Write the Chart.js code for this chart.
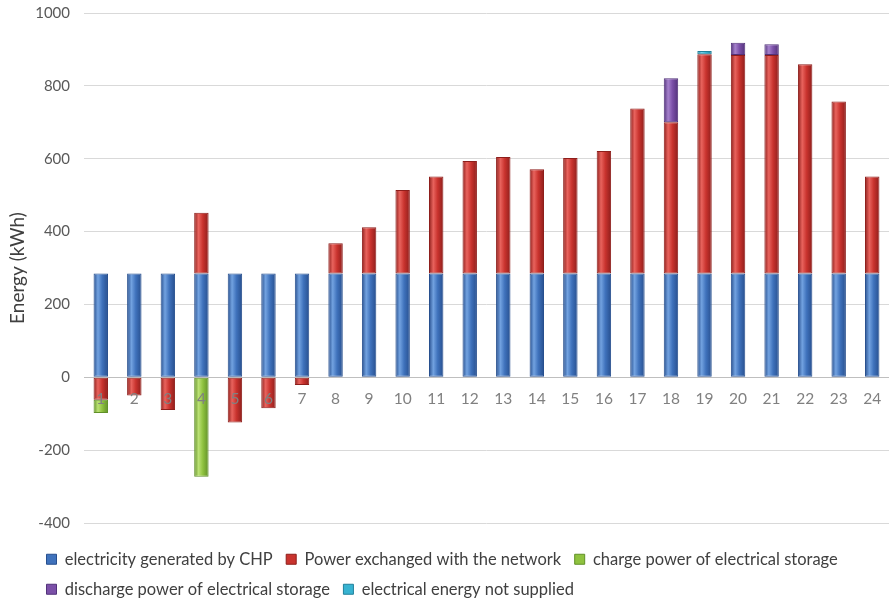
<!DOCTYPE html>
<html>
<head>
<meta charset="utf-8">
<script src="https://cdn.jsdelivr.net/npm/chart.js@4.4.1/dist/chart.umd.min.js"></script>
<style>
  html, body { margin: 0; padding: 0; background: #ffffff; }
  #wrap { width: 889px; height: 603px; }
</style>
</head>
<body>
<div id="wrap"><canvas id="chart" width="889" height="603"></canvas></div>
<script>
// Hourly electrical energy balance (kWh)
const hours = ['1','2','3','4','5','6','7','8','9','10','11','12','13','14','15','16','17','18','19','20','21','22','23','24'];

const chpOutput = [285,285,285,285,285,285,285,285,285,285,285,285,285,285,285,285,285,285,285,285,285,285,285,285];
const gridExchange = [-62,-50,-90,167,-124,-85,-21,83,127,229,266,309,320,286,317,336,453,415,602,600,600,574,472,266];
const storageCharge = [-36,null,null,-273,null,null,null,null,null,null,null,null,null,null,null,null,null,null,null,null,null,null,null,null];
const storageDischarge = [null,null,null,null,null,null,null,null,null,null,null,null,null,null,null,null,null,121,null,33,29,null,null,null];
const unservedEnergy = [null,null,null,null,null,null,null,null,null,null,null,null,null,null,null,null,null,null,9,null,null,null,null,null];

const seriesNames = [
  'electricity generated by CHP',
  'Power exchanged with the network',
  'charge power of electrical storage',
  'discharge power of electrical storage',
  'electrical energy not supplied'
];

const palette = [
  { base: '#3f72bc', light: '#72a2e0', dark: '#274f8e' },
  { base: '#c9332e', light: '#e8635d', dark: '#8e1e1b' },
  { base: '#8fc23f', light: '#bbe174', dark: '#609027' },
  { base: '#7b50a8', light: '#a581cc', dark: '#52327a' },
  { base: '#37b3d1', light: '#76d5ec', dark: '#20809a' }
];

const BAR_PCT = 0.43;

// Cylinder-like horizontal shading across each bar
function barFill(p) {
  return (ctx) => {
    const chart = ctx.chart;
    const xs = chart.scales && chart.scales.x;
    if (ctx.type !== 'data' || !xs || !chart.chartArea || !isFinite(xs.width) || xs.width <= 0) return p.base;
    const cx = xs.getPixelForValue(ctx.dataIndex);
    const half = (xs.width / hours.length) * BAR_PCT / 2;
    if (!isFinite(cx)) return p.base;
    const g = chart.ctx.createLinearGradient(cx - half, 0, cx + half, 0);
    g.addColorStop(0, p.dark);
    g.addColorStop(0.3, p.light);
    g.addColorStop(0.6, p.base);
    g.addColorStop(1, p.dark);
    return g;
  };
}

const seriesData = [chpOutput, gridExchange, storageCharge, storageDischarge, unservedEnergy];

const datasets = seriesData.map((d, i) => ({
  label: seriesNames[i],
  data: d,
  backgroundColor: barFill(palette[i]),
  borderColor: palette[i].dark,
  borderWidth: 1,
  borderSkipped: false,
  stack: 'energy',
  categoryPercentage: 1,
  barPercentage: BAR_PCT
}));

// Left-indent the bottom legend block
const legendIndent = {
  id: 'legendIndent',
  afterLayout(chart) {
    const lg = chart.legend;
    if (lg) { lg.left += 29; lg.right += 29; }
  }
};

const FONT = 'Lato, "Open Sans", "DejaVu Sans", sans-serif';

new Chart(document.getElementById('chart'), {
  type: 'bar',
  data: { labels: hours, datasets },
  plugins: [legendIndent],
  options: {
    responsive: false,
    devicePixelRatio: 1,
    animation: false,
    layout: { padding: { left: 4, right: 0, top: 13, bottom: 5 } },
    plugins: {
      tooltip: { enabled: false },
      legend: {
        position: 'bottom',
        align: 'start',
        maxHeight: 75,
        title: { display: true, text: '', font: { family: FONT, size: 10 }, padding: { top: 1.5, bottom: 1 } },
        labels: {
          boxWidth: 10,
          boxHeight: 10,
          padding: 13.5,
          color: '#404040',
          font: { family: FONT, size: 16.5 },
          generateLabels(chart) {
            const items = Chart.defaults.plugins.legend.labels.generateLabels(chart);
            items.forEach((it, i) => {
              it.fillStyle = palette[i].base;
              it.strokeStyle = palette[i].dark;
              it.lineWidth = 1;
            });
            return items;
          }
        }
      }
    },
    scales: {
      x: {
        type: 'category',
        stacked: true,
        position: { y: 0 },
        grid: { display: true, drawOnChartArea: false, drawTicks: true, tickLength: 10, tickColor: 'rgba(0,0,0,0)' },
        border: { display: true, color: '#bfbfbf', width: 1 },
        ticks: { z: 1, color: '#808080', padding: 2, font: { family: FONT, size: 15.5 }, maxRotation: 0, autoSkip: false }
      },
      y: {
        stacked: true,
        min: -400,
        max: 1000,
        afterFit(scale) { scale.width = 80; },
        ticks: {
          stepSize: 200,
          color: '#595959',
          padding: 2,
          font: { family: FONT, size: 15 },
          callback: (v) => String(v)
        },
        grid: { color: '#d9d9d9', drawTicks: true, tickLength: 12, tickColor: 'rgba(0,0,0,0)' },
        border: { display: false },
        title: {
          display: true,
          text: 'Energy (kWh)',
          color: '#404040',
          padding: { top: 2.5, bottom: 0 },
          font: { family: FONT, size: 19 }
        }
      }
    }
  }
});
</script>
</body>
</html>
